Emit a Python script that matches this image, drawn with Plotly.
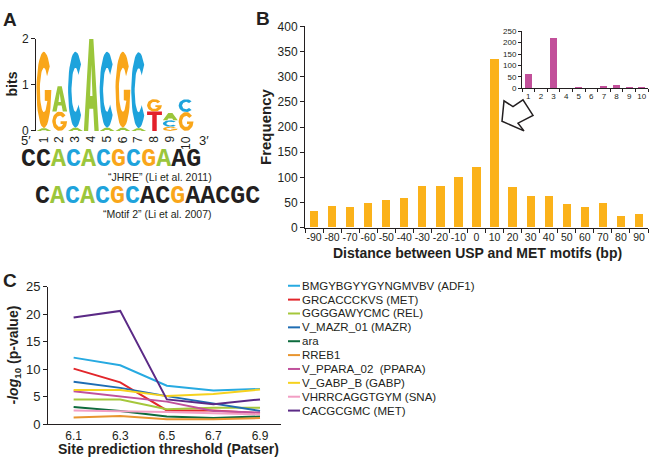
import numpy as np
import plotly.graph_objects as go

W, H = 653, 467
def px(x): return x / W
def py(y): return 1 - y / H

INK = "#231f20"
SANS = "Liberation Sans, Arial, sans-serif"

# ---------------- Panel A: sequence logo data ----------------
logo_pos = list(range(1, 11))
logo_A = [0.06, 0.55, 0.07, 2.0, 0.07, 0.07, 0.06, 0.0, 0.16, 0.0]
logo_C = [0.0, 0.0, 1.65, 0.0, 1.65, 0.0, 1.65, 0.0, 0.14, 0.28]
logo_G = [1.66, 0.42, 0.0, 0.0, 0.0, 1.65, 0.0, 0.27, 0.09, 0.41]
logo_T = [0.0, 0.0, 0.0, 0.0, 0.0, 0.0, 0.0, 0.42, 0.0, 0.0]
logo_order = ["AG", "GA", "AC", "A", "AC", "AG", "AC", "TG", "GCA", "GC"]
logo_colors = {"A": "#9bc63b", "C": "#1ea3dc", "G": "#f9a61a", "T": "#e3202a"}

seq1 = "CCACACGCGAAG"
seq1_col = "kkgbgbobogkk"
seq2 = "CACACGCACGAACGC"
seq2_col = "kgbgbobkkokkkkk"
seq1_label = "\u201cJHRE\u201d (Li et al. 2011)"
seq2_label = "\u201cMotif 2\u201d (Li et al. 2007)"

# ---------------- Panel B data ----------------
dist = [-90, -80, -70, -60, -50, -40, -30, -20, -10, 0, 10, 20, 30, 40, 50, 60, 70, 80, 90]
freq = [32, 42, 40, 49, 55, 58, 83, 83, 99, 120, 335, 80, 62, 63, 46, 40, 49, 22, 27]
inset_x = [1, 2, 3, 4, 5, 6, 7, 8, 9, 10]
inset_y = [60, 0, 218, 0, 7, 0, 8, 13, 6, 1]

# ---------------- Panel C data ----------------
thresholds = [6.1, 6.3, 6.5, 6.7, 6.9]
motif_names = ["BMGYBGYYGYNGMVBV (ADF1)", "GRCACCCKVS (MET)", "GGGGAWYCMC (REL)",
               "V_MAZR_01 (MAZR)", "ara", "RREB1", "V_PPARA_02  (PPARA)",
               "V_GABP_B (GABP)", "VHRRCAGGTGYM (SNA)", "CACGCGMC (MET)"]
motif_colors = ["#27aae1", "#e2262b", "#a5c73b", "#1f6db3", "#0d6b3d", "#e8952f",
                "#c0519c", "#f6d21e", "#f29ec4", "#5b2a86"]
v_adf1 = [12.1, 10.7, 7.0, 6.1, 6.4]
v_met = [10.1, 7.6, 2.5, 2.5, 2.0]
v_rel = [4.5, 4.5, 2.7, 3.0, 3.0]
v_mazr = [7.7, 6.6, 5.1, 3.7, 2.4]
v_ara = [3.1, 2.4, 1.4, 1.1, 1.4]
v_rreb1 = [1.2, 1.5, 0.9, 0.9, 1.1]
v_ppara = [6.0, 5.0, 4.1, 2.4, 2.1]
v_gabp = [6.2, 6.2, 5.1, 5.5, 6.3]
v_sna = [2.5, 2.4, 2.2, 2.0, 1.8]
v_cacg = [19.4, 20.6, 4.5, 3.6, 4.5]
motif_values = [v_adf1, v_met, v_rel, v_mazr, v_ara, v_rreb1, v_ppara, v_gabp, v_sna, v_cacg]

fig = go.Figure()

# ---------- glyph geometry (unit box) ----------
def arc(cx, cy, rx, ry, a0, a1, n=36):
    t = np.radians(np.linspace(a0, a1, n))
    return list(cx + rx * np.cos(t)), list(cy + ry * np.sin(t))

def glyph(letter):
    if letter == "C":
        ou, ov = arc(.5, .5, .5, .5, 42, 318)
        iu, iv = arc(.5, .5, .27, .29, 318, 42)
        return ou + iu, ov + iv
    if letter == "G":
        ou, ov = arc(.5, .5, .5, .5, 38, 360)
        iu, iv = arc(.5, .5, .27, .29, 330, 38)
        return ou + [0.56, 0.56] + iu, ov + [0.5, 0.36] + iv
    if letter == "A":
        pts = [(0, 0), (0.36, 1), (0.64, 1), (1, 0), (0.71, 0), (0.63, 0.24), (0.37, 0.24), (0.29, 0)]
    else:  # T
        pts = [(0, 1), (1, 1), (1, 0.82), (0.65, 0.82), (0.65, 0), (0.35, 0), (0.35, 0.82), (0, 0.82)]
    return [p[0] for p in pts], [p[1] for p in pts]

heights = {"A": logo_A, "C": logo_C, "G": logo_G, "T": logo_T}
paths = {k: ([], []) for k in "ACGT"}
holes = ([], [])
pad = 0.03
for i, pos in enumerate(logo_pos):
    base = 0.0
    for letter in logo_order[i]:
        h = heights[letter][i]
        if h <= 0:
            continue
        gu, gv = glyph(letter)
        x0 = pos - 0.5 + pad
        wd = 1 - 2 * pad
        paths[letter][0].extend([x0 + u * wd for u in gu] + [None])
        paths[letter][1].extend([base + v * h for v in gv] + [None])
        if letter == "A" and h > 0.3:
            cu, cv = [0.42, 0.5, 0.58], [0.38, 0.72, 0.38]
            holes[0].extend([x0 + u * wd for u in cu] + [None])
            holes[1].extend([base + v * h for v in cv] + [None])
        base += h

for letter in "ACGT":
    fig.add_trace(go.Scatter(x=paths[letter][0], y=paths[letter][1], mode="lines",
                             fill="toself", fillcolor=logo_colors[letter],
                             line=dict(width=0, color=logo_colors[letter]),
                             hoverinfo="skip", showlegend=False, xaxis="x", yaxis="y"))
fig.add_trace(go.Scatter(x=holes[0], y=holes[1], mode="lines", fill="toself",
                         fillcolor="white", line=dict(width=0, color="white"),
                         hoverinfo="skip", showlegend=False, xaxis="x", yaxis="y"))

# ---------- Panel B ----------
fig.add_trace(go.Bar(x=dist, y=freq, width=4.6, marker=dict(color="#fbb21a", line=dict(width=0)),
                     showlegend=False, xaxis="x2", yaxis="y2"))
fig.add_trace(go.Bar(x=inset_x, y=inset_y, width=0.55, marker=dict(color="#c2509a", line=dict(width=0)),
                     showlegend=False, xaxis="x3", yaxis="y3"))

# ---------- Panel C ----------
for name, col, vals in zip(motif_names, motif_colors, motif_values):
    fig.add_trace(go.Scatter(x=thresholds, y=vals, mode="lines", name=name,
                             line=dict(color=col, width=2), showlegend=False,
                             xaxis="x4", yaxis="y4"))

def ax(size, **kw):
    d = dict(showgrid=False, zeroline=False, linecolor=INK, linewidth=1,
             tickcolor=INK, tickfont=dict(family=SANS, color=INK, size=size))
    d.update(kw)
    return d

fig.update_layout(
    width=W, height=H, autosize=False,
    margin=dict(l=0, r=0, t=0, b=0),
    paper_bgcolor="white", plot_bgcolor="white",
    bargap=0, showlegend=False,
    xaxis=ax(12, domain=[px(36), px(194)], range=[0.5, 10.5], showline=False,
             showticklabels=False, ticks="", anchor="y"),
    yaxis=ax(12, domain=[py(128), py(33)], range=[0, 2], showline=True,
             tickvals=[0, 1, 2], ticks="outside", ticklen=4, anchor="x"),
    xaxis2=ax(10.5, domain=[px(305), px(648)], range=[-95, 95], showline=True,
              tickvals=dist, ticktext=[str(d) for d in dist], ticks="", tickangle=0, anchor="y2",
              minor=dict(tick0=-95, dtick=10, ticks="outside", ticklen=4, tickcolor=INK, showgrid=False)),
    yaxis2=ax(12, domain=[py(228), py(20)], range=[0, 400], showline=True,
              tickvals=list(range(0, 401, 50)), ticks="outside", ticklen=4, anchor="x2"),
    xaxis3=ax(8, domain=[px(522), px(648)], range=[0.5, 10.5], showline=True,
              tickvals=inset_x, ticks="", tickangle=0, anchor="y3",
              minor=dict(tick0=0.5, dtick=1, ticks="outside", ticklen=3, tickcolor=INK, showgrid=False)),
    yaxis3=ax(8, domain=[py(84), py(25)], range=[0, 250], showline=True,
              tickvals=list(range(0, 251, 50)), ticks="outside", ticklen=3, anchor="x3"),
    xaxis4=ax(12, domain=[px(48), px(281)], range=[5.99, 6.99], showline=True,
              tickvals=thresholds, ticktext=[f"{t:.1f}" for t in thresholds], ticks="",
              tickangle=0, anchor="y4"),
    yaxis4=ax(13, domain=[py(431), py(289)], range=[0, 25], showline=True,
              tickvals=[0, 5, 10, 15, 20, 25], ticks="outside", ticklen=4, anchor="x4"),
)

ann = []
def text(x, y, s, size, bold=False, angle=0, xanchor="center", color=INK, family=SANS):
    ann.append(dict(x=px(x), y=py(y), xref="paper", yref="paper", text=(f"<b>{s}</b>" if bold else s),
                    showarrow=False, textangle=angle, xanchor=xanchor, yanchor="middle",
                    font=dict(family=family, size=size, color=color)))

# panel letters
text(10, 13, "A", 19, bold=True)
text(263, 12, "B", 19, bold=True)
text(10, 283, "C", 19, bold=True)

# logo labels
text(12, 80, "bits", 14, bold=True, angle=-90)
text(26, 138, "5\u2032", 13)
text(204, 138, "3\u2032", 13)
for pos in logo_pos:
    ann.append(dict(x=pos, y=py(131), xref="x", yref="paper", text=str(pos), showarrow=False,
                    textangle=-90, xanchor="center", yanchor="top",
                    font=dict(family=SANS, size=12, color=INK)))

# sequences
cmap = {"k": INK, "g": logo_colors["A"], "b": logo_colors["C"], "o": logo_colors["G"]}
def colored(seq, cols):
    return "".join(f"<span style='color:{cmap[c]}'>{ch}</span>" for ch, c in zip(seq, cols))
ann.append(dict(x=px(19), y=py(158), xref="paper", yref="paper", text="<b>" + colored(seq1, seq1_col) + "</b>",
                showarrow=False, xanchor="left", yanchor="middle",
                font=dict(family="Liberation Mono, Courier New, monospace", size=25, color=INK)))
ann.append(dict(x=px(33), y=py(196), xref="paper", yref="paper", text="<b>" + colored(seq2, seq2_col) + "</b>",
                showarrow=False, xanchor="left", yanchor="middle",
                font=dict(family="Liberation Mono, Courier New, monospace", size=25, color=INK)))
text(214, 176, seq1_label, 10.5, xanchor="right")
text(214, 214, seq2_label, 10.5, xanchor="right")

# panel B titles
text(265, 124, "Frequency", 15, bold=True, angle=-90)
text(477, 254, "Distance between USP and MET motifs (bp)", 14, bold=True)

# panel C titles
text(14, 360, "<i>-log</i><sub>10</sub> (p-value)", 14, bold=True, angle=-90)
text(168, 457, "Site prediction threshold (Patser)", 14, bold=True)

# legend for panel C
shapes = []
for i, (name, col) in enumerate(zip(motif_names, motif_colors)):
    yy = 288 + i * 14.33
    shapes.append(dict(type="line", xref="paper", yref="paper", x0=px(288), x1=px(300),
                       y0=py(yy), y1=py(yy), line=dict(color=col, width=2)))
    text(300, yy, name, 11.5, xanchor="left")

# outline arrow pointing to the +10 bar
arrow_pts = [(502, 118), (504, 97), (513, 103), (523, 96), (533, 112), (518, 120), (524, 128)]
path = "M " + " L ".join(f"{px(a):.5f},{py(b):.5f}" for a, b in arrow_pts) + " Z"
shapes.append(dict(type="path", xref="paper", yref="paper", path=path,
                   line=dict(color=INK, width=1.5), fillcolor="white"))

fig.update_layout(annotations=ann, shapes=shapes)
fig.write_html("out.html", config={"displayModeBar": False},
               post_script="document.body.style.margin='0px';document.body.style.overflow='hidden';")
